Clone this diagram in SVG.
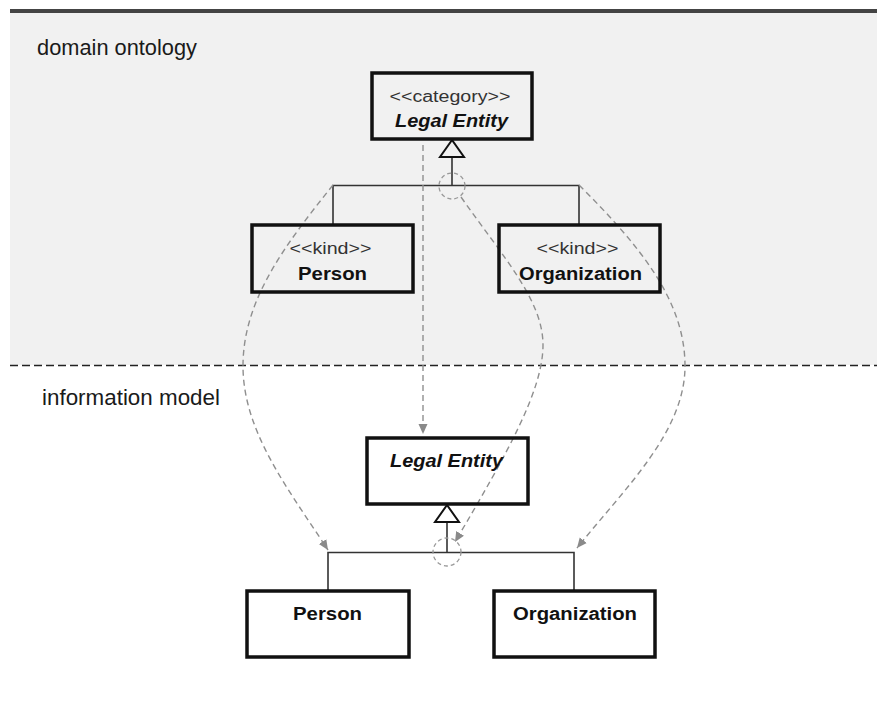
<svg xmlns="http://www.w3.org/2000/svg" width="877" height="710" viewBox="0 0 877 710">
<defs>
<style>
.sec{font-family:"Liberation Sans",Arial,sans-serif;font-size:22px;fill:#1a1a1a}
.box{fill:none;stroke:#111;stroke-width:3.5}
.st{font-family:"Liberation Sans",Arial,sans-serif;font-size:16px;fill:#333;text-anchor:middle}
.nm{font-family:"Liberation Sans",Arial,sans-serif;font-size:18px;font-weight:bold;fill:#111;text-anchor:middle}
.it{font-style:italic}
.gen{fill:none;stroke:#333;stroke-width:1.6}
.tri{fill:none;stroke:#111;stroke-width:2}
.map{fill:none;stroke:#8f8f8f;stroke-width:1.4;stroke-dasharray:6 4}
.circ{fill:none;stroke:#999;stroke-width:1.3;stroke-dasharray:4 3}
</style>
<marker id="ah" viewBox="0 0 10 10" refX="10" refY="5" markerWidth="10" markerHeight="10" markerUnits="userSpaceOnUse" orient="auto">
<path d="M0,0.5 L10,5 L0,9.5 Z" fill="#8a8a8a"/>
</marker>
</defs>
<rect x="10" y="13" width="867" height="352" fill="#f1f1f1"/>
<rect x="10" y="9" width="867" height="4" fill="#444"/>
<line x1="10" y1="365.5" x2="877" y2="365.5" stroke="#222" stroke-width="1.5" stroke-dasharray="8 4"/>
<text class="sec" x="37" y="55" textLength="160" lengthAdjust="spacingAndGlyphs">domain ontology</text>
<text class="sec" x="42" y="405" textLength="178" lengthAdjust="spacingAndGlyphs">information model</text>

<g id="generalizations">
<polyline class="gen" points="333,225 333,185.5 579,185.5 579,225"/>
<line class="gen" x1="452" y1="157" x2="452" y2="185.5"/>
<polygon class="tri" points="452,140 440,157 464,157"/>
<polyline class="gen" points="328,591 328,552.5 574,552.5 574,591"/>
<line class="gen" x1="447" y1="522" x2="447" y2="552.5"/>
<polygon class="tri" points="447,505 435,522 459,522"/>
<circle class="circ" cx="452" cy="186" r="13"/>
<circle class="circ" cx="447" cy="552" r="14"/>
</g>

<g id="connectors">
<path class="map" d="M333,185 C285,245 243,300 243,366 S289,490 328,550" marker-end="url(#ah)"/>
<path class="map" d="M461,197 C503,257 543,300 543,345 S508,452 455,542" marker-end="url(#ah)"/>
<path class="map" d="M579,185 C639,245 685,300 685,366 S625,488 577,548" marker-end="url(#ah)"/>
<line class="map" x1="423" y1="145" x2="423" y2="434" marker-end="url(#ah)"/>
</g>

<g id="onto-legal-entity">
<rect class="box" x="372" y="73" width="160" height="66"/>
<text class="st" x="450" y="102" textLength="121" lengthAdjust="spacingAndGlyphs">&lt;&lt;category&gt;&gt;</text>
<text class="nm it" x="451.5" y="127" textLength="113" lengthAdjust="spacingAndGlyphs">Legal Entity</text>
</g>
<g id="onto-person">
<rect class="box" x="252" y="225" width="161" height="67"/>
<text class="st" x="330.5" y="254" textLength="82" lengthAdjust="spacingAndGlyphs">&lt;&lt;kind&gt;&gt;</text>
<text class="nm" x="332.5" y="280" textLength="69" lengthAdjust="spacingAndGlyphs">Person</text>
</g>
<g id="onto-organization">
<rect class="box" x="499" y="225" width="161" height="67"/>
<text class="st" x="577.5" y="254" textLength="82" lengthAdjust="spacingAndGlyphs">&lt;&lt;kind&gt;&gt;</text>
<text class="nm" x="580.5" y="280" textLength="123" lengthAdjust="spacingAndGlyphs">Organization</text>
</g>
<g id="info-legal-entity">
<rect class="box" x="367" y="438" width="161" height="66"/>
<text class="nm it" x="446.5" y="467" textLength="113" lengthAdjust="spacingAndGlyphs">Legal Entity</text>
</g>
<g id="info-person">
<rect class="box" x="247" y="591" width="162" height="66"/>
<text class="nm" x="327.5" y="620" textLength="69" lengthAdjust="spacingAndGlyphs">Person</text>
</g>
<g id="info-organization">
<rect class="box" x="494" y="591" width="161" height="66"/>
<text class="nm" x="575" y="620" textLength="124" lengthAdjust="spacingAndGlyphs">Organization</text>
</g>
</svg>
